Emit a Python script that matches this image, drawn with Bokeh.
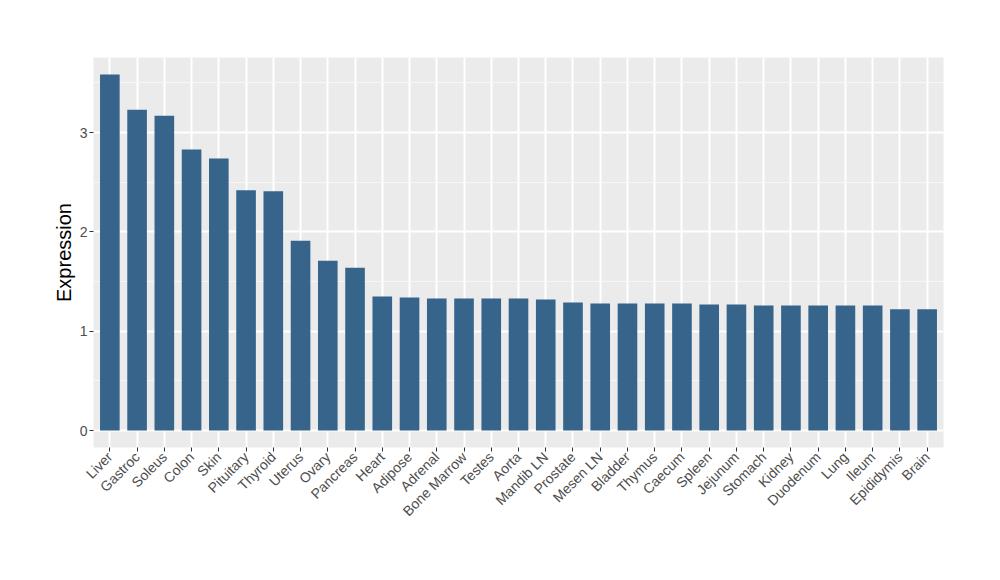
import math
from bokeh.plotting import figure
from bokeh.models import FactorRange, FixedTicker, ColumnDataSource
from bokeh.embed import file_html
from bokeh.resources import INLINE

tissues = ["Liver", "Gastroc", "Soleus", "Colon", "Skin", "Pituitary", "Thyroid",
           "Uterus", "Ovary", "Pancreas", "Heart", "Adipose", "Adrenal", "Bone Marrow",
           "Testes", "Aorta", "Mandib LN", "Prostate", "Mesen LN", "Bladder", "Thymus",
           "Caecum", "Spleen", "Jejunum", "Stomach", "Kidney", "Duodenum", "Lung",
           "Ileum", "Epididymis", "Brain"]
expression = [3.585, 3.23, 3.17, 2.83, 2.74, 2.42, 2.41, 1.91, 1.71, 1.64,
              1.35, 1.34, 1.33, 1.33, 1.33, 1.33, 1.32, 1.29, 1.28, 1.28, 1.28,
              1.28, 1.27, 1.27, 1.26, 1.26, 1.26, 1.26, 1.26, 1.22, 1.22]
y_ticks = [0, 1, 2, 3]
y_minor = [0.5, 1.5, 2.5, 3.5]

FONT = "Liberation Sans"

src = ColumnDataSource(dict(x=tissues, y=expression))

p = figure(width=1000, height=580, output_backend="svg", toolbar_location=None,
           x_range=FactorRange(factors=tissues, range_padding=0.1,
                               range_padding_units="absolute"),
           y_range=(-0.171, 3.756),
           min_border_left=93, min_border_right=57, min_border_top=57,
           min_border_bottom=133)

p.vbar(x="x", top="y", bottom=0, width=0.72, source=src,
       fill_color="#36648B", line_color=None)

p.background_fill_color = "#EBEBEB"
p.border_fill_color = "white"
p.outline_line_color = None

# y axis
p.yaxis.ticker = FixedTicker(ticks=y_ticks, minor_ticks=y_minor)
p.yaxis.axis_label = "Expression"
p.yaxis.axis_label_text_font = FONT
p.yaxis.axis_label_text_font_size = "20px"
p.yaxis.axis_label_text_font_style = "normal"
p.yaxis.axis_label_text_color = "black"
p.yaxis.axis_label_standoff = 2
p.yaxis.major_label_text_font = FONT
p.yaxis.major_label_text_font_size = "14px"
p.yaxis.major_label_text_color = "#4D4D4D"
p.yaxis.major_label_standoff = 2
p.yaxis.axis_line_color = None
p.yaxis.major_tick_line_color = "#333333"
p.yaxis.major_tick_out = 4
p.yaxis.major_tick_in = 0
p.yaxis.minor_tick_line_color = None

# x axis
p.xaxis.major_label_orientation = math.pi / 4
p.xaxis.major_label_text_font = FONT
p.xaxis.major_label_text_font_size = "14px"
p.xaxis.major_label_text_color = "#4D4D4D"
p.xaxis.major_label_standoff = 3
p.xaxis.axis_line_color = None
p.xaxis.major_tick_line_color = "#333333"
p.xaxis.major_tick_out = 4
p.xaxis.major_tick_in = 0
p.xaxis.minor_tick_line_color = None

# grids
p.xgrid.grid_line_color = "white"
p.xgrid.grid_line_width = 2
p.ygrid.grid_line_color = "white"
p.ygrid.grid_line_width = 2
p.ygrid.minor_grid_line_color = "#F7F7F7"
p.ygrid.minor_grid_line_width = 1

open("out.html", "w").write(file_html(p, INLINE))
